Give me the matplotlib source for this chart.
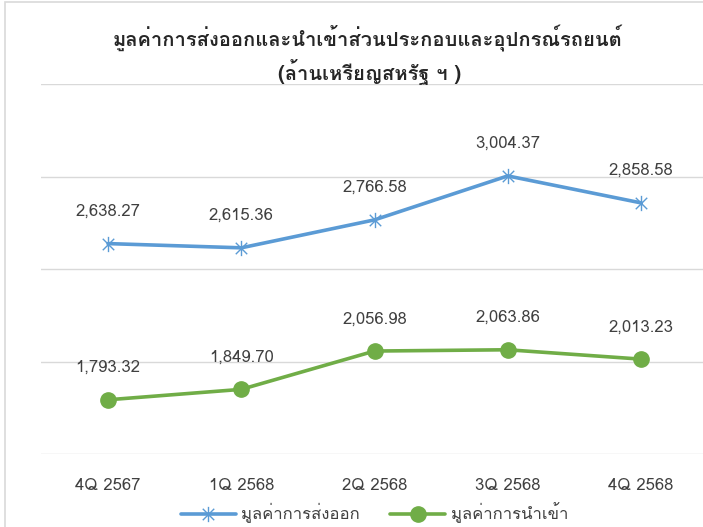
import matplotlib
matplotlib.use("Agg")
import matplotlib.pyplot as plt
from matplotlib import font_manager
from matplotlib.ft2font import FT2Font
from matplotlib.path import Path
from matplotlib.patches import Rectangle

# data
quarters = ["4Q 2567", "1Q 2568", "2Q 2568", "3Q 2568", "4Q 2568"]
exports = [2638.27, 2615.36, 2766.58, 3004.37, 2858.58]
imports = [1793.32, 1849.70, 2056.98, 2063.86, 2013.23]
series_names = ["มูลค่าการส่งออก", "มูลค่าการนำเข้า"]
title_lines = ["มูลค่าการส่งออกและนำเข้าส่วนประกอบและอุปกรณ์รถยนต์", "(ล้านเหรียญสหรัฐ ฯ )"]


def find_thai_fonts():
    """Return names of installed fonts that carry Thai glyphs."""
    names = []
    for f in font_manager.fontManager.ttflist:
        try:
            cmap = FT2Font(f.fname).get_charmap()
        except Exception:
            continue
        if 0x0E21 in cmap and 0x0E33 in cmap and f.name not in names:
            names.append(f.name)
    return names


thai = find_thai_fonts()
families = thai[:1] + ["DejaVu Sans"]
plt.rcParams["font.family"] = families

# Excel-like star marker: X plus a vertical bar
star = Path([(0, -1), (0, 1), (-0.75, -0.75), (0.75, 0.75), (-0.75, 0.75), (0.75, -0.75)],
            [Path.MOVETO, Path.LINETO, Path.MOVETO, Path.LINETO, Path.MOVETO, Path.LINETO])

blue = "#5b9bd5"
green = "#70ad47"
label_col = "#404040"

fig = plt.figure(figsize=(7.03, 5.27), dpi=100)
W, H = 703, 527
ax = fig.add_axes([41.4 / W, 1 - 454 / H, 666.2 / W, (454 - 84.3) / H])

x = list(range(len(quarters)))
ax.plot(x, exports, color=blue, lw=2.6, marker=star, markersize=11,
        markeredgewidth=1.0, markeredgecolor=blue, label=series_names[0],
        solid_capstyle="round", zorder=3)
ax.plot(x, imports, color=green, lw=2.6, marker="o", markersize=11,
        markeredgecolor=green, markerfacecolor=green, label=series_names[1],
        solid_capstyle="round", zorder=3)

for xi, v in zip(x, exports):
    ax.annotate(f"{v:,.2f}", (xi, v), xytext=(0, 23), textcoords="offset points",
                ha="center", va="center", fontsize=12, color=label_col)
for xi, v in zip(x, imports):
    ax.annotate(f"{v:,.2f}", (xi, v), xytext=(0, 23), textcoords="offset points",
                ha="center", va="center", fontsize=12, color=label_col)

ax.set_xlim(-0.5, 4.5)
ax.set_ylim(1500, 3500)
ax.set_yticks([1500, 2000, 2500, 3000, 3500])
ax.set_yticklabels([])
ax.tick_params(axis="y", length=0)
ax.grid(axis="y", color="#d9d9d9", lw=1)
ax.set_axisbelow(True)
ax.set_xticks(x)
ax.set_xticklabels(quarters, fontsize=12, color=label_col)
ax.tick_params(axis="x", length=0, pad=17)
for s in ax.spines.values():
    s.set_visible(False)

fig.text(368 / W, 1 - 38 / H, title_lines[0], ha="center", va="center",
         fontsize=14.5, fontweight="bold", color="#262626")
fig.text(370 / W, 1 - 72 / H, title_lines[1], ha="center", va="center",
         fontsize=14.5, fontweight="bold", color="#262626")

ax.legend(loc="center", bbox_to_anchor=(374.5 / W, 1 - 513 / H),
          bbox_transform=fig.transFigure, ncol=2, frameon=False,
          fontsize=12, handlelength=3.3, handletextpad=0.35,
          columnspacing=1.8, labelcolor=label_col)

# chart area border
fig.patches.append(Rectangle((5 / W, -0.1), 1.1, 1.1 - 2 / H, transform=fig.transFigure,
                             fill=False, edgecolor="#d9d9d9", lw=1.2))

fig.savefig("out.png", dpi=100)
